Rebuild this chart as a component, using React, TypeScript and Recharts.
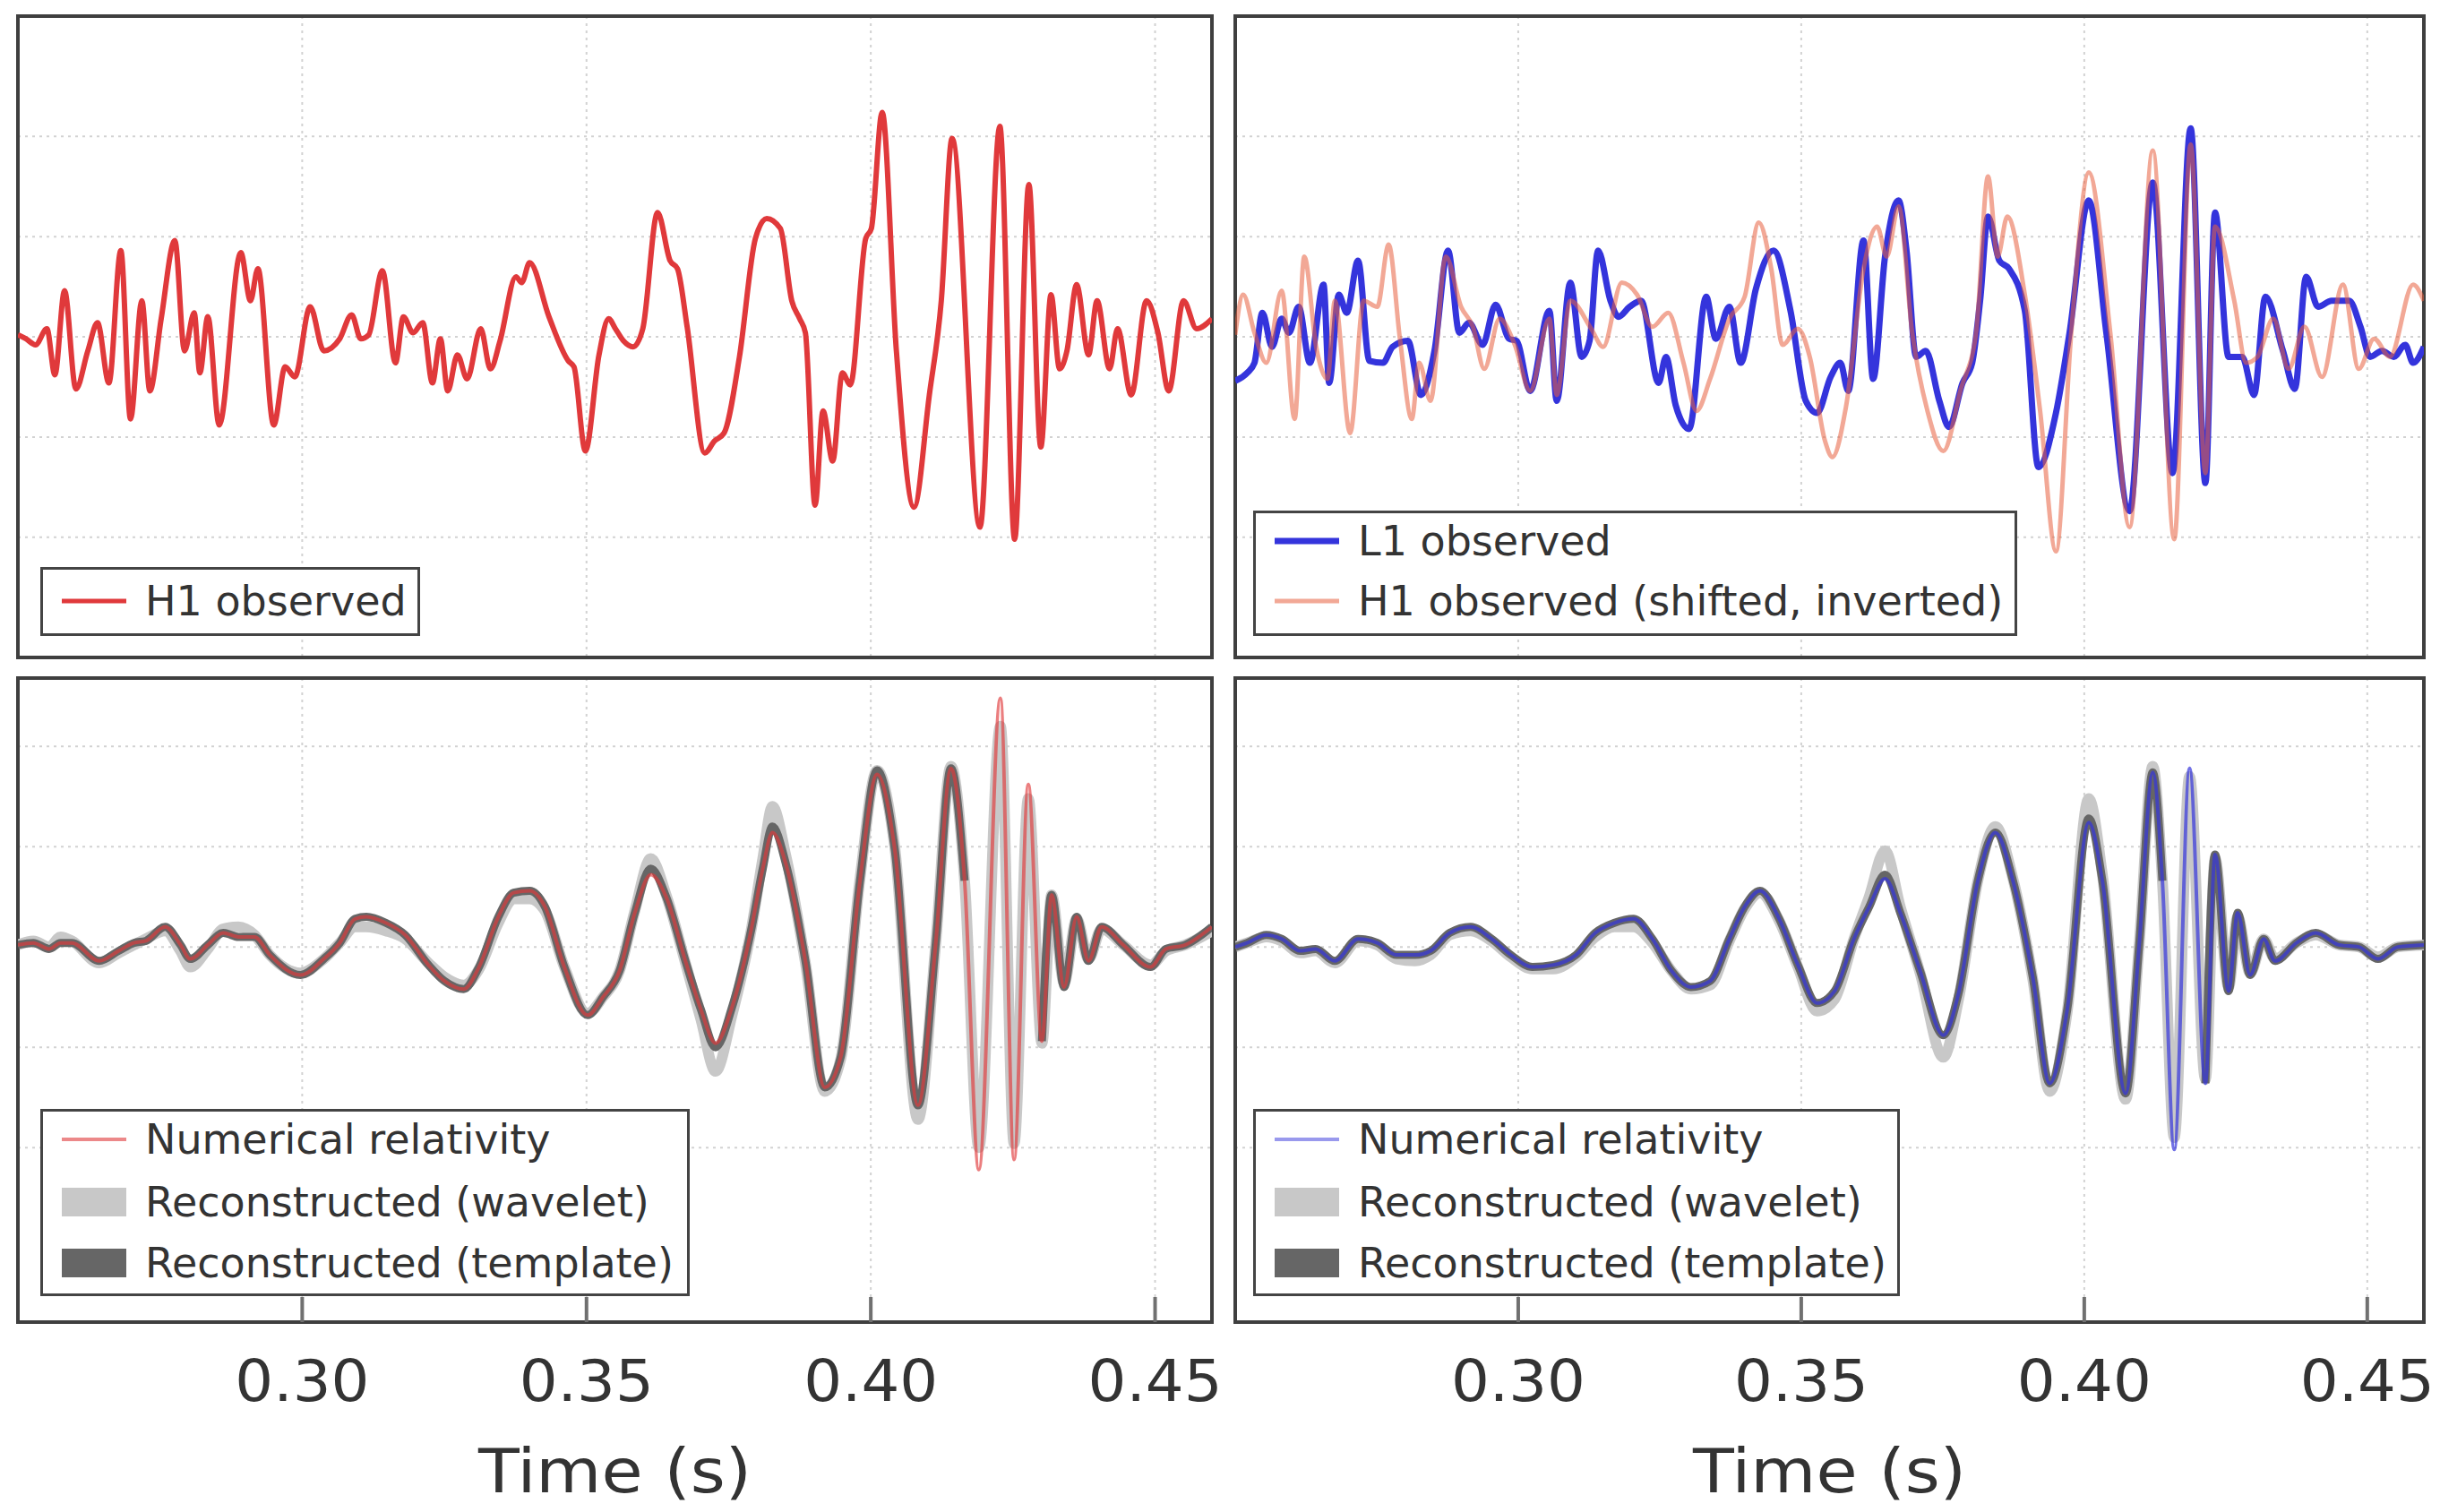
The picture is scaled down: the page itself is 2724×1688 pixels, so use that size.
import React from 'react';
import { LineChart, Line, XAxis, YAxis, CartesianGrid, ReferenceArea, Legend } from 'recharts';

// Strain in units of 1e-21, time in seconds.

// Top left: H1 observed
const h1Observed: [number, number][] = [
  [0.25, 0.01], [0.2514, -0.01], [0.2531, -0.04], [0.2551, 0.04], [0.2565, -0.19], [0.2582, 0.23],
  [0.2602, -0.26], [0.2623, -0.07], [0.264, 0.07], [0.266, -0.23], [0.2681, 0.43], [0.2698, -0.41],
  [0.2718, 0.18], [0.2732, -0.27], [0.2752, 0.09], [0.2776, 0.48], [0.2793, -0.07], [0.281, 0.12],
  [0.282, -0.18], [0.2834, 0.1], [0.2854, -0.44], [0.2892, 0.42], [0.2909, 0.18], [0.2922, 0.34],
  [0.295, -0.44], [0.297, -0.15], [0.2987, -0.2], [0.3014, 0.15], [0.3038, -0.07], [0.3066, -0.01],
  [0.3087, 0.11], [0.3103, -0.01], [0.3117, 0.01], [0.3141, 0.33], [0.3164, -0.13], [0.3178, 0.1],
  [0.3195, 0.02], [0.3212, 0.07], [0.3229, -0.23], [0.3243, -0.01], [0.3256, -0.27], [0.3273, -0.09],
  [0.329, -0.21], [0.3314, 0.04], [0.3331, -0.16], [0.3348, -0.02], [0.3376, 0.3], [0.3386, 0.27],
  [0.34, 0.37], [0.3434, 0.1], [0.3468, -0.12], [0.3478, -0.15], [0.3498, -0.57], [0.3522, -0.09],
  [0.3539, 0.09], [0.3551, 0.04], [0.3565, -0.02], [0.3582, -0.05], [0.3599, 0.04], [0.3625, 0.62],
  [0.3647, 0.38], [0.366, 0.34], [0.3677, 0.05], [0.3708, -0.58], [0.3725, -0.52], [0.3742, -0.48],
  [0.3769, -0.1], [0.3797, 0.49], [0.3817, 0.59], [0.3841, 0.54], [0.3861, 0.18], [0.3875, 0.09],
  [0.3885, 0.02], [0.3902, -0.84], [0.3916, -0.37], [0.3933, -0.62], [0.395, -0.18], [0.3964, -0.24],
  [0.3991, 0.49], [0.4001, 0.54], [0.402, 1.12], [0.4045, -0.07], [0.4076, -0.85], [0.4103, -0.29],
  [0.4124, 0.18], [0.4143, 0.99], [0.4192, -0.95], [0.4227, 1.05], [0.4253, -1.01], [0.4278, 0.76],
  [0.4299, -0.55], [0.4317, 0.21], [0.4332, -0.16], [0.4345, -0.07], [0.4362, 0.26], [0.4383, -0.09],
  [0.4398, 0.18], [0.442, -0.16], [0.4434, 0.04], [0.4458, -0.29], [0.4485, 0.18], [0.4505, 0.02],
  [0.4524, -0.27], [0.455, 0.18], [0.4573, 0.04], [0.46, 0.09],
];

// Top right: L1 observed
const l1Observed: [number, number][] = [
  [0.25, -0.22], [0.2521, -0.18], [0.2534, -0.13], [0.2548, 0.12], [0.2565, -0.05], [0.2582, 0.09],
  [0.2595, 0.02], [0.2612, 0.15], [0.2632, -0.13], [0.2656, 0.26], [0.2666, -0.23], [0.2683, 0.21],
  [0.2697, 0.12], [0.2717, 0.38], [0.2737, -0.12], [0.2761, -0.13], [0.2778, -0.05], [0.2805, -0.02],
  [0.2828, -0.29], [0.2852, -0.07], [0.2876, 0.43], [0.2896, 0.02], [0.2913, 0.07], [0.2937, -0.04],
  [0.296, 0.16], [0.2984, -0.01], [0.2997, -0.02], [0.3021, -0.27], [0.3055, 0.13], [0.3068, -0.32],
  [0.3092, 0.27], [0.3112, -0.1], [0.3126, -0.02], [0.3141, 0.43], [0.3163, 0.18], [0.3177, 0.1],
  [0.3197, 0.15], [0.3217, 0.18], [0.3248, -0.23], [0.3261, -0.1], [0.3278, -0.34], [0.3302, -0.46],
  [0.3332, 0.2], [0.3349, -0.01], [0.3373, 0.15], [0.3393, -0.13], [0.342, 0.24], [0.3451, 0.43],
  [0.3481, 0.13], [0.3508, -0.32], [0.3528, -0.38], [0.3552, -0.2], [0.3569, -0.13], [0.3583, -0.27],
  [0.361, 0.48], [0.3627, -0.21], [0.3648, 0.4], [0.3672, 0.68], [0.3686, 0.43], [0.3703, -0.1],
  [0.372, -0.07], [0.3744, -0.32], [0.3761, -0.45], [0.3785, -0.23], [0.3802, -0.13], [0.3816, 0.18],
  [0.383, 0.6], [0.385, 0.38], [0.3867, 0.34], [0.3895, 0.13], [0.3919, -0.65], [0.395, -0.38],
  [0.3974, 0.02], [0.4008, 0.68], [0.4039, 0.02], [0.408, -0.87], [0.4121, 0.77], [0.4156, -0.68],
  [0.4188, 1.04], [0.4214, -0.73], [0.4231, 0.62], [0.4255, -0.1], [0.4279, -0.1], [0.43, -0.29],
  [0.432, 0.2], [0.4351, -0.07], [0.4372, -0.26], [0.4392, 0.3], [0.4413, 0.15], [0.4437, 0.18],
  [0.4468, 0.18], [0.4488, 0.05], [0.4505, -0.1], [0.4526, -0.07], [0.4547, -0.1], [0.4567, -0.04],
  [0.4581, -0.13], [0.46, -0.05],
];

// Top right: H1 observed, shifted and inverted
const h1Shifted: [number, number][] = [
  [0.25, 0.01], [0.2514, 0.21], [0.2534, 0.02], [0.2555, -0.13], [0.2582, 0.23], [0.2605, -0.41],
  [0.2622, 0.4], [0.2643, -0.05], [0.2663, -0.21], [0.2676, 0.18], [0.2703, -0.48], [0.2727, 0.18],
  [0.2751, 0.15], [0.2771, 0.46], [0.2791, -0.01], [0.2812, -0.41], [0.2825, -0.13], [0.2845, -0.32],
  [0.2872, 0.4], [0.2899, 0.15], [0.292, 0.05], [0.294, -0.16], [0.2967, 0.09], [0.2994, -0.04],
  [0.3021, -0.27], [0.3055, 0.09], [0.3068, -0.29], [0.3092, 0.18], [0.3129, 0.04], [0.315, -0.05],
  [0.3183, 0.27], [0.321, 0.21], [0.3237, 0.05], [0.3265, 0.12], [0.3292, -0.13], [0.3315, -0.37],
  [0.3339, -0.21], [0.3373, 0.09], [0.34, 0.2], [0.3425, 0.57], [0.3447, 0.34], [0.3467, -0.04],
  [0.3494, 0.04], [0.3515, -0.1], [0.3542, -0.52], [0.3555, -0.6], [0.3579, -0.35], [0.361, 0.34],
  [0.3634, 0.55], [0.3651, 0.4], [0.3672, 0.65], [0.3696, 0.02], [0.3723, -0.37], [0.3751, -0.57],
  [0.3782, -0.26], [0.3809, 0.02], [0.383, 0.8], [0.3847, 0.4], [0.3864, 0.6], [0.3895, 0.21],
  [0.3922, -0.37], [0.395, -1.07], [0.3977, 0.02], [0.4008, 0.82], [0.4046, 0.02], [0.408, -0.95],
  [0.4121, 0.93], [0.4159, -1.01], [0.4188, 0.96], [0.4214, -0.68], [0.4231, 0.55], [0.4265, 0.18],
  [0.4286, -0.13], [0.4306, -0.1], [0.4334, 0.09], [0.4361, -0.16], [0.4389, 0.05], [0.442, -0.2],
  [0.4457, 0.26], [0.4485, -0.16], [0.4512, -0.01], [0.454, -0.1], [0.4581, 0.26], [0.46, 0.18],
];

// Bottom left: Hanford reconstructions
const hanfordTime = [
  0.25, 0.2527, 0.2555, 0.2575, 0.2595, 0.2643, 0.2677, 0.2704, 0.2725, 0.2759,
  0.2786, 0.2803, 0.2834, 0.2861, 0.2888, 0.2916, 0.2943, 0.2997, 0.3038, 0.3066,
  0.3093, 0.3113, 0.3147, 0.3181, 0.3222, 0.325, 0.3284, 0.3311, 0.3345, 0.3372,
  0.34, 0.3427, 0.3461, 0.3502, 0.3529, 0.3558, 0.3585, 0.3613, 0.364, 0.3674,
  0.3701, 0.3727, 0.3756, 0.379, 0.381, 0.3827, 0.3851, 0.3885, 0.3919, 0.3947,
  0.3981, 0.4011, 0.4042, 0.4083, 0.4114, 0.4141, 0.4165, 0.419, 0.4228, 0.4252,
  0.4277, 0.4301, 0.4318, 0.434, 0.4362, 0.4383, 0.4406, 0.4444, 0.4492, 0.4519,
  0.4553, 0.46,
];
const hanfordNR = [
  0.01, 0.02, -0.01, 0.02, 0.02, -0.07, -0.02, 0.02, 0.03, 0.1,
  0.01, -0.06, 0.01, 0.07, 0.05, 0.05, -0.04, -0.14, -0.06, 0.02,
  0.14, 0.15, 0.12, 0.06, -0.09, -0.17, -0.21, -0.1, 0.15, 0.27,
  0.28, 0.2, -0.1, -0.34, -0.25, -0.12, 0.17, 0.36, 0.25, -0.07,
  -0.31, -0.48, -0.3, 0.09, 0.39, 0.57, 0.41, -0.07, -0.7, -0.55,
  0.33, 0.86, 0.49, -0.79, 0.01, 0.89, 0.33, -1.11, 1.24, -1.06,
  0.81, -0.47, 0.26, -0.2, 0.15, -0.07, 0.1, 0.01, -0.1, -0.01,
  0.01, 0.1,
];
const hanfordWavelet = [
  0.01, 0.03, 0.0, 0.05, 0.03, -0.08, -0.03, 0.01, 0.04, 0.08,
  -0.02, -0.1, -0.01, 0.09, 0.1, 0.06, -0.04, -0.13, -0.06, 0.02,
  0.1, 0.1, 0.08, 0.04, -0.08, -0.15, -0.19, -0.11, 0.12, 0.24,
  0.24, 0.18, -0.1, -0.33, -0.25, -0.12, 0.18, 0.44, 0.26, -0.08,
  -0.36, -0.62, -0.34, 0.09, 0.44, 0.7, 0.45, -0.08, -0.72, -0.56,
  0.34, 0.88, 0.5, -0.86, 0.01, 0.9, 0.33, -1.0, 1.1, -0.98,
  0.74, -0.48, 0.26, -0.18, 0.14, -0.06, 0.09, 0.01, -0.09, -0.02,
  0.01, 0.08,
];
const hanfordTemplate: (number | null)[] = [
  0.01, 0.02, -0.01, 0.02, 0.02, -0.07, -0.02, 0.02, 0.03, 0.1,
  0.01, -0.06, 0.01, 0.07, 0.05, 0.05, -0.04, -0.14, -0.06, 0.02,
  0.14, 0.15, 0.12, 0.06, -0.09, -0.17, -0.21, -0.1, 0.15, 0.27,
  0.28, 0.2, -0.1, -0.34, -0.25, -0.12, 0.17, 0.39, 0.25, -0.07,
  -0.31, -0.5, -0.3, 0.09, 0.39, 0.6, 0.41, -0.07, -0.7, -0.55,
  0.33, 0.88, 0.49, -0.79, 0.01, 0.89, 0.33, null, null, null,
  null, -0.47, 0.26, -0.2, 0.15, -0.07, 0.1, 0.01, -0.1, -0.01,
  0.01, 0.1,
];

// Bottom right: Livingston reconstructions
const livingstonTime = [
  0.25, 0.2521, 0.2555, 0.2582, 0.2615, 0.2642, 0.2676, 0.2717, 0.2751, 0.2785,
  0.2818, 0.2845, 0.2879, 0.2916, 0.2953, 0.2987, 0.3025, 0.3062, 0.3102, 0.3136,
  0.317, 0.3204, 0.3237, 0.3271, 0.3305, 0.3339, 0.3373, 0.34, 0.3427, 0.3461,
  0.3494, 0.3528, 0.3559, 0.3593, 0.362, 0.3648, 0.3675, 0.371, 0.3751, 0.3778,
  0.3812, 0.3843, 0.3874, 0.3909, 0.3939, 0.397, 0.4008, 0.4032, 0.4073, 0.4097,
  0.4121, 0.4138, 0.4159, 0.4186, 0.4214, 0.4231, 0.4255, 0.4271, 0.4293, 0.4317,
  0.4337, 0.4375, 0.4409, 0.445, 0.4485, 0.4519, 0.4554, 0.46,
];
const livingstonNR = [
  0.0, 0.02, 0.06, 0.04, -0.02, -0.01, -0.07, 0.04, 0.02, -0.04,
  -0.04, -0.02, 0.07, 0.1, 0.04, -0.04, -0.1, -0.09, -0.04, 0.07,
  0.12, 0.14, 0.04, -0.12, -0.2, -0.17, 0.04, 0.2, 0.28, 0.14,
  -0.09, -0.28, -0.22, 0.04, 0.2, 0.34, 0.17, -0.12, -0.44, -0.23,
  0.33, 0.57, 0.33, -0.15, -0.68, -0.31, 0.62, 0.33, -0.73, 0.01,
  0.87, 0.33, -1.01, 0.89, -0.68, 0.46, -0.22, 0.17, -0.14, 0.04,
  -0.07, 0.02, 0.07, 0.01, 0.0, -0.06, 0.0, 0.01,
];
const livingstonWavelet = [
  0.0, 0.02, 0.05, 0.03, -0.03, -0.02, -0.08, 0.03, 0.01, -0.06,
  -0.07, -0.04, 0.06, 0.08, 0.03, -0.05, -0.11, -0.11, -0.05, 0.05,
  0.1, 0.1, 0.02, -0.12, -0.21, -0.19, 0.03, 0.19, 0.27, 0.13,
  -0.1, -0.32, -0.26, 0.04, 0.25, 0.48, 0.2, -0.13, -0.55, -0.26,
  0.33, 0.6, 0.34, -0.16, -0.72, -0.32, 0.74, 0.36, -0.76, 0.01,
  0.9, 0.33, -0.95, 0.85, -0.66, 0.44, -0.2, 0.15, -0.13, 0.04,
  -0.06, 0.02, 0.06, 0.01, 0.0, -0.05, 0.0, 0.01,
];
const livingstonTemplate: (number | null)[] = [
  0.0, 0.02, 0.06, 0.04, -0.02, -0.01, -0.07, 0.04, 0.02, -0.04,
  -0.04, -0.02, 0.07, 0.1, 0.04, -0.04, -0.1, -0.09, -0.04, 0.07,
  0.12, 0.14, 0.04, -0.12, -0.2, -0.17, 0.04, 0.2, 0.28, 0.14,
  -0.09, -0.28, -0.22, 0.04, 0.2, 0.36, 0.17, -0.12, -0.44, -0.23,
  0.33, 0.57, 0.33, -0.15, -0.68, -0.31, 0.64, 0.33, -0.73, 0.01,
  0.87, 0.33, null, null, -0.68, 0.46, -0.22, 0.17, -0.14, 0.04,
  -0.07, 0.02, 0.07, 0.01, 0.0, -0.06, 0.0, 0.01,
];

const timeTicks = [0.3, 0.35, 0.4, 0.45];
const strainTicks = [-1, -0.5, 0, 0.5, 1];
const TIME_DOMAIN: [number, number] = [0.25, 0.46];
const TOP_DOMAIN: [number, number] = [-1.6, 1.6];
const BOTTOM_DOMAIN: [number, number] = [-1.87, 1.34];

const FONT = '"DejaVu Sans", Verdana, sans-serif';
const TEXT = '#333333';
const TICK_LEN = 28;
const TICK_COLOR = '#707070';
const M = 6;
const AXIS_H = 212;

const fromPairs = (pts: [number, number][]) => pts.map(([t, v]) => ({ t, v }));
const zip = (ts: number[], vs: (number | null)[]) => ts.map((t, i) => ({ t, v: vs[i] }));

// The source figure is a little wider than tall, so axis texts get a fixed length.
const BottomTick = (labelled: boolean) => (props: any) => {
  const { x, y, payload } = props;
  return (
    <g>
      <line x1={x} x2={x} y1={y} y2={y - TICK_LEN} stroke={TICK_COLOR} strokeWidth={4} />
      {labelled && (
        <text
          x={x}
          y={y + 88}
          textAnchor="middle"
          fontSize={64}
          fill={TEXT}
          fontFamily={FONT}
          textLength={150}
          lengthAdjust="spacingAndGlyphs"
        >
          {Number(payload.value).toFixed(2)}
        </text>
      )}
    </g>
  );
};
const TopTick = (props: any) => (
  <line x1={props.x} x2={props.x} y1={props.y} y2={props.y + TICK_LEN} stroke={TICK_COLOR} strokeWidth={4} />
);
const LeftTick = (props: any) => (
  <line x1={props.x} x2={props.x + TICK_LEN} y1={props.y} y2={props.y} stroke={TICK_COLOR} strokeWidth={4} />
);
const RightTick = (props: any) => (
  <line x1={props.x} x2={props.x - TICK_LEN} y1={props.y} y2={props.y} stroke={TICK_COLOR} strokeWidth={4} />
);
const TimeLabel = (props: any) => {
  const vb = props.viewBox;
  return (
    <text
      x={vb.x + vb.width / 2}
      y={vb.y + vb.height - 22}
      textAnchor="middle"
      fontSize={68}
      fill={TEXT}
      fontFamily={FONT}
      textLength={305}
      lengthAdjust="spacingAndGlyphs"
    >
      Time (s)
    </text>
  );
};

interface LegendItem {
  label: string;
  kind: 'line' | 'patch';
  color: string;
  size: number;
  opacity?: number;
}

const LegendBox: React.FC<{ items: LegendItem[]; width: number; height: number; rows: number[] }> = ({
  items,
  width,
  height,
  rows,
}) => (
  <svg width={width} height={height} style={{ display: 'block' }}>
    <rect x={1.5} y={1.5} width={width - 3} height={height - 3} fill="#ffffff" stroke="#444444" strokeWidth={3} />
    {items.map((it, i) => {
      const cy = rows[i];
      return (
        <g key={it.label}>
          {it.kind === 'line' ? (
            <line x1={24} x2={96} y1={cy} y2={cy} stroke={it.color} strokeWidth={it.size} strokeOpacity={it.opacity ?? 1} />
          ) : (
            <rect x={24} y={cy - it.size / 2} width={72} height={it.size} fill={it.color} />
          )}
          <text x={117} y={cy} dominantBaseline="central" fontSize={46} fill={TEXT} fontFamily={FONT}>
            {it.label}
          </text>
        </g>
      );
    })}
  </svg>
);

interface PanelProps {
  left: number;
  top: number;
  width: number;
  plotHeight: number;
  yDomain: [number, number];
  timeLabels?: boolean;
  legend: React.ReactElement;
  legendAt: { left: number; top: number };
  children: React.ReactNode;
}

const Panel: React.FC<PanelProps> = ({ left, top, width, plotHeight, yDomain, timeLabels, legend, legendAt, children }) => {
  const height = plotHeight + M + (timeLabels ? AXIS_H : M);
  return (
    <div style={{ position: 'absolute', left, top }}>
      <LineChart
        width={width}
        height={height}
        margin={{ top: M, right: M, left: M, bottom: timeLabels ? 0 : M }}
      >
        <CartesianGrid stroke="#d2d2d2" strokeWidth={2} strokeDasharray="3 5" />
        <XAxis
          dataKey="t"
          type="number"
          domain={TIME_DOMAIN}
          ticks={timeTicks}
          interval={0}
          allowDataOverflow
          height={timeLabels ? AXIS_H : 0}
          axisLine={false}
          tickLine={false}
          tickSize={0}
          tickMargin={0}
          tick={BottomTick(!!timeLabels)}
          label={timeLabels ? { position: 'insideBottom', content: TimeLabel } : undefined}
        />
        <XAxis
          xAxisId="top"
          orientation="top"
          dataKey="t"
          type="number"
          domain={TIME_DOMAIN}
          ticks={timeTicks}
          interval={0}
          allowDataOverflow
          height={0}
          axisLine={false}
          tickLine={false}
          tickSize={0}
          tickMargin={0}
          tick={TopTick}
        />
        <YAxis
          type="number"
          domain={yDomain}
          ticks={strainTicks}
          interval={0}
          allowDataOverflow
          width={0}
          axisLine={false}
          tickLine={false}
          tickSize={0}
          tickMargin={0}
          tick={LeftTick}
        />
        <YAxis
          yAxisId="right"
          orientation="right"
          type="number"
          domain={yDomain}
          ticks={strainTicks}
          interval={0}
          allowDataOverflow
          width={0}
          axisLine={false}
          tickLine={false}
          tickSize={0}
          tickMargin={0}
          tick={RightTick}
        />
        {children}
        <ReferenceArea
          x1={TIME_DOMAIN[0]}
          x2={TIME_DOMAIN[1]}
          y1={yDomain[0]}
          y2={yDomain[1]}
          fill="none"
          fillOpacity={0}
          stroke="#3f3f3f"
          strokeWidth={4}
          ifOverflow="visible"
        />
        <Legend
          layout="vertical"
          align="center"
          verticalAlign="middle"
          content={() => legend}
          wrapperStyle={{ left: legendAt.left, top: legendAt.top, width: 'auto', height: 'auto' }}
        />
      </LineChart>
    </div>
  );
};

const RED = '#e0393b';
const BLUE = '#3434dc';
const SALMON = '#e8603f';
const WAVELET = '#c8c8c8';
const TEMPLATE = '#666666';

const series = { dot: false, activeDot: false, isAnimationActive: false } as const;

export default function App() {
  return (
    <div
      style={{
        position: 'absolute',
        left: 0,
        top: 0,
        width: 2724,
        height: 1688,
        background: '#ffffff',
        fontFamily: FONT,
        overflow: 'hidden',
      }}
    >
      <style>{'.recharts-surface { overflow: visible; }'}</style>
      <Panel
        left={14}
        top={12}
        width={1345}
        plotHeight={716}
        yDomain={TOP_DOMAIN}
        legendAt={{ left: 31, top: 621 }}
        legend={
          <LegendBox width={424} height={77} rows={[38]} items={[{ label: 'H1 observed', kind: 'line', color: RED, size: 5 }]} />
        }
      >
        <Line {...series} data={fromPairs(h1Observed)} dataKey="v" name="H1 observed" type="monotone" stroke={RED} strokeWidth={6} strokeLinejoin="round" />
      </Panel>

      <Panel
        left={1373}
        top={12}
        width={1339}
        plotHeight={716}
        yDomain={TOP_DOMAIN}
        legendAt={{ left: 26, top: 558 }}
        legend={
          <LegendBox
            width={853}
            height={140}
            rows={[34, 101]}
            items={[
              { label: 'L1 observed', kind: 'line', color: BLUE, size: 7 },
              { label: 'H1 observed (shifted, inverted)', kind: 'line', color: SALMON, size: 5, opacity: 0.55 },
            ]}
          />
        }
      >
        <Line {...series} data={fromPairs(l1Observed)} dataKey="v" name="L1 observed" type="monotone" stroke={BLUE} strokeWidth={7} strokeLinejoin="round" />
        <Line {...series} data={fromPairs(h1Shifted)} dataKey="v" name="H1 observed (shifted, inverted)" type="monotone" stroke={SALMON} strokeOpacity={0.55} strokeWidth={5} strokeLinejoin="round" />
      </Panel>

      <Panel
        left={14}
        top={751}
        width={1345}
        plotHeight={719}
        yDomain={BOTTOM_DOMAIN}
        timeLabels
        legendAt={{ left: 31, top: 487 }}
        legend={
          <LegendBox
            width={725}
            height={209}
            rows={[34, 104, 172]}
            items={[
              { label: 'Numerical relativity', kind: 'line', color: RED, size: 4, opacity: 0.6 },
              { label: 'Reconstructed (wavelet)', kind: 'patch', color: WAVELET, size: 32 },
              { label: 'Reconstructed (template)', kind: 'patch', color: TEMPLATE, size: 32 },
            ]}
          />
        }
      >
        <Line {...series} data={zip(hanfordTime, hanfordWavelet)} dataKey="v" name="Reconstructed (wavelet)" type="monotone" stroke={WAVELET} strokeWidth={12} strokeLinejoin="round" />
        <Line {...series} data={zip(hanfordTime, hanfordTemplate)} dataKey="v" name="Reconstructed (template)" type="monotone" stroke={TEMPLATE} strokeWidth={9} strokeLinejoin="round" />
        <Line {...series} data={zip(hanfordTime, hanfordNR)} dataKey="v" name="Numerical relativity" type="monotone" stroke={RED} strokeOpacity={0.65} strokeWidth={4} />
      </Panel>

      <Panel
        left={1373}
        top={751}
        width={1339}
        plotHeight={719}
        yDomain={BOTTOM_DOMAIN}
        timeLabels
        legendAt={{ left: 26, top: 487 }}
        legend={
          <LegendBox
            width={722}
            height={209}
            rows={[34, 104, 172]}
            items={[
              { label: 'Numerical relativity', kind: 'line', color: BLUE, size: 4, opacity: 0.5 },
              { label: 'Reconstructed (wavelet)', kind: 'patch', color: WAVELET, size: 32 },
              { label: 'Reconstructed (template)', kind: 'patch', color: TEMPLATE, size: 32 },
            ]}
          />
        }
      >
        <Line {...series} data={zip(livingstonTime, livingstonWavelet)} dataKey="v" name="Reconstructed (wavelet)" type="monotone" stroke={WAVELET} strokeWidth={12} strokeLinejoin="round" />
        <Line {...series} data={zip(livingstonTime, livingstonTemplate)} dataKey="v" name="Reconstructed (template)" type="monotone" stroke={TEMPLATE} strokeWidth={9} strokeLinejoin="round" />
        <Line {...series} data={zip(livingstonTime, livingstonNR)} dataKey="v" name="Numerical relativity" type="monotone" stroke={BLUE} strokeOpacity={0.7} strokeWidth={4} />
      </Panel>
    </div>
  );
}
